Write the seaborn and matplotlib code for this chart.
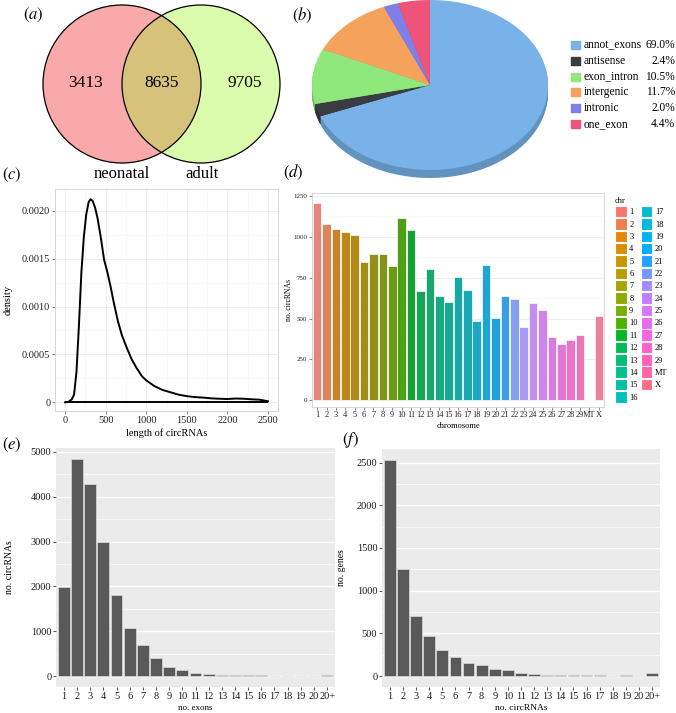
import numpy as np
import pandas as pd
import matplotlib
matplotlib.use('Agg')
import matplotlib.pyplot as plt
from matplotlib.patches import Circle, Rectangle, Patch
from matplotlib.ticker import MultipleLocator
import seaborn as sns

plt.rcParams['font.family'] = ['Liberation Serif', 'DejaVu Serif']
plt.rcParams['mathtext.fontset'] = 'stix'

# (a) venn counts: neonatal only, shared, adult only
venn_counts = [3413, 8635, 9705]
venn_sets = ['neonatal', 'adult']

# (b) circRNA categories
pie_labels = ['annot_exons', 'antisense', 'exon_intron', 'intergenic', 'intronic', 'one_exon']
pie_pct = [69.0, 2.4, 10.5, 11.7, 2.0, 4.4]
pie_colors = ['#78B2E8', '#3B3B42', '#8FE87C', '#F5A25C', '#7F7FE8', '#EE5479']

# (c) length density
length = [0, 40, 80, 110, 140, 170, 200, 230, 260, 290, 315, 340, 370, 400, 440, 480,
          520, 560, 600, 650, 700, 760, 820, 880, 950, 1000, 1100, 1200, 1300, 1400,
          1500, 1600, 1700, 1800, 1900, 2000, 2100, 2200, 2300, 2400, 2500]
density = [0.0, 0.000005, 0.00003, 0.00008, 0.00032, 0.00080, 0.00135, 0.00172, 0.00196,
           0.00209, 0.00212, 0.00210, 0.00203, 0.00192, 0.00172, 0.00149, 0.00136, 0.00121,
           0.00104, 0.00085, 0.00070, 0.00057, 0.00045, 0.00036, 0.00027, 0.00023, 0.00017,
           0.00013, 0.000105, 0.00008, 0.000065, 0.000055, 0.00005, 0.000042, 0.000038,
           0.000035, 0.00004, 0.000038, 0.000032, 0.000028, 0.000012]
len_ticks = [0, 500, 1000, 1500, 2000, 2500]
len_ticklabels = ['0', '500', '1000', '1500', '2200', '2500']

# (d) circRNAs per chromosome
chroms = [str(i) for i in range(1, 30)] + ['MT', 'X']
chrom_counts = [1207, 1075, 1044, 1026, 1010, 845, 894, 894, 822, 1112, 1040, 670, 804, 637,
                600, 753, 674, 487, 824, 501, 637, 621, 446, 592, 550, 385, 346, 366, 401,
                4, 517]

# (e) exons per circRNA
exon_cats = [str(i) for i in range(1, 21)] + ['20+']
exon_counts = [1997, 4843, 4285, 2988, 1803, 1080, 693, 395, 209, 134, 67, 52, 30, 30,
               15, 15, 12, 12, 8, 5, 15]

# (f) circRNAs per gene
circ_cats = [str(i) for i in range(1, 21)] + ['20+']
gene_counts = [2531, 1254, 701, 467, 304, 222, 156, 132, 86, 70, 35, 27, 19, 19,
               12, 12, 8, 4, 8, 6, 35]


def hue_pal(n, c=100, l=65):
    # ggplot2 default hue palette (polar LUV)
    out = []
    Xn, Yn, Zn = 95.047, 100.0, 108.883
    un = 4 * Xn / (Xn + 15 * Yn + 3 * Zn)
    vn = 9 * Yn / (Xn + 15 * Yn + 3 * Zn)
    M = np.array([[3.240479, -1.537150, -0.498535],
                  [-0.969256, 1.875992, 0.041556],
                  [0.055648, -0.204043, 1.057311]])
    for h in np.linspace(15, 375, n + 1)[:-1]:
        hr = np.deg2rad(h)
        u, v = c * np.cos(hr), c * np.sin(hr)
        Y = Yn * ((l + 16) / 116) ** 3
        up = u / (13 * l) + un
        vp = v / (13 * l) + vn
        X = 9 * Y * up / (4 * vp)
        Z = Y * (12 - 3 * up - 20 * vp) / (4 * vp)
        rgb = np.clip(M @ (np.array([X, Y, Z]) / 100), 0, 1)
        rgb = np.where(rgb <= 0.0031308, 12.92 * rgb, 1.055 * rgb ** (1 / 2.4) - 0.055)
        out.append(tuple(np.clip(rgb, 0, 1)))
    return out


W, H = 676, 713
fig = plt.figure(figsize=(W / 100, H / 100), dpi=100)


def px_axes(l, t, r, b):
    return fig.add_axes([l / W, 1 - b / H, (r - l) / W, (b - t) / H])


def fx(p):
    return p / W


def fy(p):
    return 1 - p / H


# ---------- (a) Venn ----------
ax = px_axes(0, 0, 300, 190)
ax.set_xlim(0, 300)
ax.set_ylim(190, 0)
ax.axis('off')
c_left = Circle((122, 84), 79, fc='#F9A9A9', ec='none')
c_right = Circle((201, 84), 79, fc='#D9FBAB', ec='none')
ax.add_patch(c_left)
ax.add_patch(c_right)
c_mid = Circle((201, 84), 79, fc='#D7C27C', ec='none')
ax.add_patch(c_mid)
c_mid.set_clip_path(c_left)
for cen in [(122, 84), (201, 84)]:
    ax.add_patch(Circle(cen, 79, fc='none', ec='black', lw=0.9))
for xp, n in zip([86, 162, 245], venn_counts):
    ax.text(xp, 83, str(n), ha='center', va='center', fontsize=12.5)
for xp, s in zip([122, 202], venn_sets):
    ax.text(xp, 174, s, ha='center', va='center', fontsize=12)

# ---------- (b) pie ----------
ax = px_axes(312, 0, 548, 180)
side_colors = [tuple(0.82 * np.array(matplotlib.colors.to_rgb(c))) for c in pie_colors]
for k in range(8, 0, -1):
    ax.pie(pie_pct, colors=side_colors, startangle=90, counterclock=False,
           center=(0, -k * 0.0118), wedgeprops=dict(linewidth=0))
ax.pie(pie_pct, colors=pie_colors, startangle=90, counterclock=False,
       wedgeprops=dict(linewidth=0))
ax.set_aspect('auto')
ax.set_xlim(-1.0, 1.0)
ax.set_ylim(-1.118, 1.0)
ax.axis('off')

for i, (lab, p, c) in enumerate(zip(pie_labels, pie_pct, pie_colors)):
    yc = 45 + i * 15.8
    fig.add_artist(Rectangle((fx(571), fy(yc + 4)), 9 / W, 8 / H,
                             transform=fig.transFigure, color=c))
    fig.text(fx(584), fy(yc), lab, ha='left', va='center', fontsize=8.3)
    fig.text(fx(675), fy(yc), f'{p:.1f}%', ha='right', va='center', fontsize=8.3)


def bw_style(ax, fs):
    ax.set_facecolor('white')
    for s in ax.spines.values():
        s.set_color('#D0D0D0')
        s.set_linewidth(0.6)
    ax.grid(True, which='major', color='#EBEBEB', lw=0.6)
    ax.grid(True, which='minor', color='#F5F5F5', lw=0.4)
    ax.set_axisbelow(True)
    ax.tick_params(which='major', length=2.2, width=0.5, color='#555555',
                   labelsize=fs, labelcolor='#222222', pad=1.2)
    ax.tick_params(which='minor', length=0)


def grey_style(ax, fs):
    ax.set_facecolor('#EBEBEB')
    for s in ax.spines.values():
        s.set_visible(False)
    ax.grid(True, which='major', color='white', lw=1.0)
    ax.grid(True, which='minor', axis='y', color='white', lw=0.5)
    ax.set_axisbelow(True)
    ax.tick_params(which='major', length=2.2, width=0.6, color='#333333',
                   labelsize=fs, labelcolor='#1A1A1A', pad=1.2)
    ax.tick_params(which='minor', length=0)


# ---------- (c) density ----------
ax = px_axes(55, 189, 278, 411)
bw_style(ax, 7.5)
sns.lineplot(x=length, y=density, color='black', lw=1.4, ax=ax)
ax.hlines(0, min(length), max(length), color='black', lw=1.4)
ax.set_xlim(-125, 2625)
ax.set_ylim(-0.00009, 0.002226)
ax.set_xticks(len_ticks)
ax.set_xticklabels(len_ticklabels)
ax.xaxis.set_minor_locator(MultipleLocator(250))
ax.set_yticks([0, 0.0005, 0.001, 0.0015, 0.002])
ax.set_yticklabels(['0', '0.0005', '0.0010', '0.0015', '0.0020'])
ax.yaxis.set_minor_locator(MultipleLocator(0.00025))
ax.set_xlabel('length of circRNAs', fontsize=7.5)
ax.set_ylabel('density', fontsize=7.5)
ax.yaxis.set_label_coords(-0.19, 0.5)
ax.xaxis.set_label_coords(0.5, -0.078)

# ---------- (d) chromosome bars ----------
ax = px_axes(312, 193, 604, 407)
bw_style(ax, 5)
chr_colors = hue_pal(len(chroms))
df_chr = pd.DataFrame({'chr': chroms, 'count': chrom_counts})
sns.barplot(data=df_chr, x='chr', y='count', hue='chr', palette=chr_colors,
            width=0.92, edgecolor='white', linewidth=0.5, legend=False, ax=ax)
ax.set_xlim(-0.55, len(chroms) - 0.45)
ax.set_ylim(-40, 1266)
ax.set_yticks([0, 250, 500, 750, 1000, 1250])
ax.yaxis.set_minor_locator(MultipleLocator(125))
ax.tick_params(axis='x', labelsize=6, pad=1)
ax.set_xlabel('chromosome', fontsize=6)
ax.set_ylabel('no. circRNAs', fontsize=5.5)
ax.yaxis.set_label_coords(-0.065, 0.5)
ax.xaxis.set_label_coords(0.5, -0.072)
handles = [Patch(facecolor=c, edgecolor='white', lw=0.8) for c in chr_colors]
ax.legend(handles, chroms, ncol=2, title='chr', alignment='left', fontsize=6,
          title_fontsize=6, frameon=False, loc='upper left',
          bbox_to_anchor=(fx(615), fy(197)), bbox_transform=fig.transFigure,
          borderpad=0, handlelength=1.4, handleheight=1.75, labelspacing=0.1,
          handletextpad=0.3, columnspacing=0.35, borderaxespad=0)

# ---------- (e) exons per circRNA ----------
ax = px_axes(56, 448, 335, 687)
grey_style(ax, 7.5)
sns.barplot(x=exon_cats, y=exon_counts, color='#595959', width=0.9,
            edgecolor='#DDDDDD', linewidth=0.5, ax=ax)
ax.set_xlim(-0.6, len(exon_cats) - 0.4)
ax.set_ylim(-242, 5085)
ax.set_yticks([0, 1000, 2000, 3000, 4000, 5000])
ax.yaxis.set_minor_locator(MultipleLocator(500))
ax.set_xlabel('no. exons', fontsize=6.5)
ax.set_ylabel('no. circRNAs', fontsize=7)
ax.yaxis.set_label_coords(-0.15, 0.5)
ax.xaxis.set_label_coords(0.5, -0.071)

# ---------- (f) circRNAs per gene ----------
ax = px_axes(382, 449, 660, 687)
grey_style(ax, 7.5)
sns.barplot(x=circ_cats, y=gene_counts, color='#595959', width=0.9,
            edgecolor='#DDDDDD', linewidth=0.5, ax=ax)
ax.set_xlim(-0.6, len(circ_cats) - 0.4)
ax.set_ylim(-127, 2658)
ax.set_yticks([0, 500, 1000, 1500, 2000, 2500])
ax.yaxis.set_minor_locator(MultipleLocator(250))
ax.set_xlabel('no. circRNAs', fontsize=6.8)
ax.set_ylabel('no. genes', fontsize=7)
ax.yaxis.set_label_coords(-0.13, 0.5)
ax.xaxis.set_label_coords(0.5, -0.071)

# panel letters
for lab, xp, yp in [('a', 33, 15), ('b', 302, 15), ('c', 12, 175),
                    ('d', 293, 172), ('e', 12, 445), ('f', 350, 440)]:
    fig.text(fx(xp), fy(yp), f'$({lab})$', ha='center', va='center', fontsize=12)

fig.savefig('out.png', dpi=100)
